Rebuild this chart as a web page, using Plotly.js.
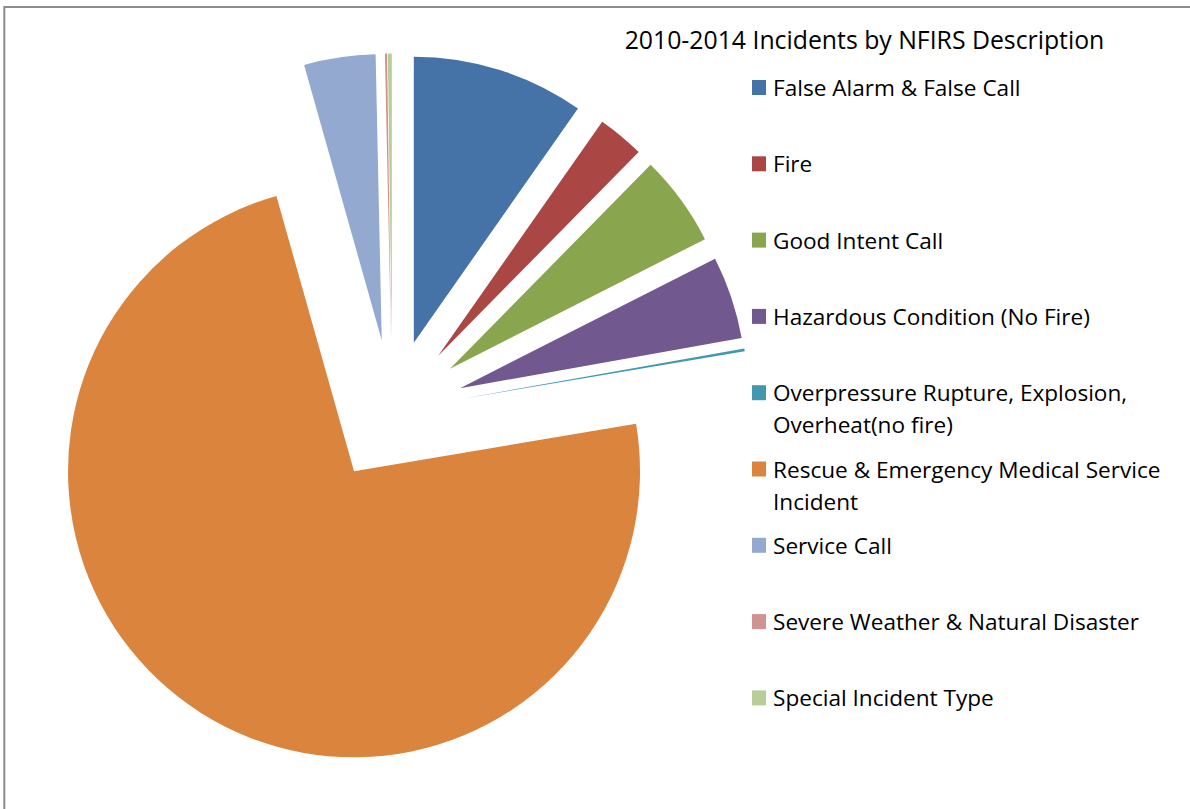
<!DOCTYPE html>
<html>
<head>
<meta charset="utf-8">
<script src="https://cdn.plot.ly/plotly-3.0.1.min.js"></script>
<style>
  html, body { margin: 0; padding: 0; background: #ffffff; }
  #chart { width: 1190px; height: 809px; }
</style>
</head>
<body>
<div id="chart"></div>
<script>
// ---- Data (approximate shares in %) ----
var chartTitle = "2010-2014 Incidents by NFIRS Description";

var categories = [
  "False Alarm & False Call",
  "Fire",
  "Good Intent Call",
  "Hazardous Condition (No Fire)",
  "Overpressure Rupture, Explosion,<br>Overheat(no fire)",
  "Rescue & Emergency Medical Service<br>Incident",
  "Service Call",
  "Severe Weather & Natural Disaster",
  "Special Incident Type"
];

var values = [9.72, 2.64, 5.14, 4.67, 0.15, 73.2, 4.03, 0.12, 0.22];

var sliceColors = [
  "#4572A7", "#AA4643", "#89A54E", "#71588F", "#4198AF",
  "#DB843D", "#93A9CF", "#D19392", "#B9CD96"
];

// ---- Layout helpers (pixel positions in a 1190 x 809 page) ----
var W = 1190, H = 809;
function px(x) { return x / W; }
function py(y) { return 1 - y / H; }

var FONT = "'Open Sans', Lato, 'Liberation Sans', sans-serif";

var trace = {
  type: "pie",
  labels: categories,
  values: values,
  sort: false,
  direction: "clockwise",
  rotation: 0,
  pull: categories.map(function () { return 0.25; }),
  marker: { colors: sliceColors, line: { width: 0 } },
  textinfo: "none",
  hoverinfo: "label+percent",
  showlegend: false,
  domain: { x: [0.0292, 0.6301], y: [0.0502, 0.934] }
};

// Legend drawn as squares + text, one row per category
var annotations = [];
var shapes = [];
var rowTop = 87.5, rowStep = 76.3, lineStep = 32;
categories.forEach(function (label, i) {
  var yc = rowTop + i * rowStep;
  shapes.push({
    type: "rect", xref: "paper", yref: "paper",
    x0: px(752), x1: px(766), y0: py(yc - 7.5), y1: py(yc + 7.5),
    fillcolor: sliceColors[i], line: { width: 0 }
  });
  label.split("<br>").forEach(function (line, j) {
    annotations.push({
      xref: "paper", yref: "paper",
      x: px(771), y: py(yc + j * lineStep),
      xanchor: "left", yanchor: "middle",
      text: line, showarrow: false,
      font: { family: FONT, size: 22.6, color: "#000000" }
    });
  });
});

// Chart frame lines (top and left edges visible in the reference)
shapes.push({
  type: "line", xref: "paper", yref: "paper",
  x0: px(4.3), x1: 1, y0: py(7), y1: py(7),
  line: { color: "#8c8c8c", width: 2 }
});
shapes.push({
  type: "line", xref: "paper", yref: "paper",
  x0: px(4.3), x1: px(4.3), y0: py(6), y1: 0,
  line: { color: "#8c8c8c", width: 2 }
});

var layout = {
  width: W, height: H,
  margin: { l: 0, r: 0, t: 0, b: 0 },
  paper_bgcolor: "#ffffff",
  plot_bgcolor: "#ffffff",
  title: {
    text: chartTitle,
    x: px(864.5), xanchor: "center", xref: "paper",
    y: 1 - 40 / H, yanchor: "middle", yref: "container",
    font: { family: FONT, size: 24.8, color: "#000000" }
  },
  showlegend: false,
  annotations: annotations,
  shapes: shapes
};

Plotly.newPlot("chart", [trace], layout, { displayModeBar: false, staticPlot: false });
</script>
</body>
</html>
